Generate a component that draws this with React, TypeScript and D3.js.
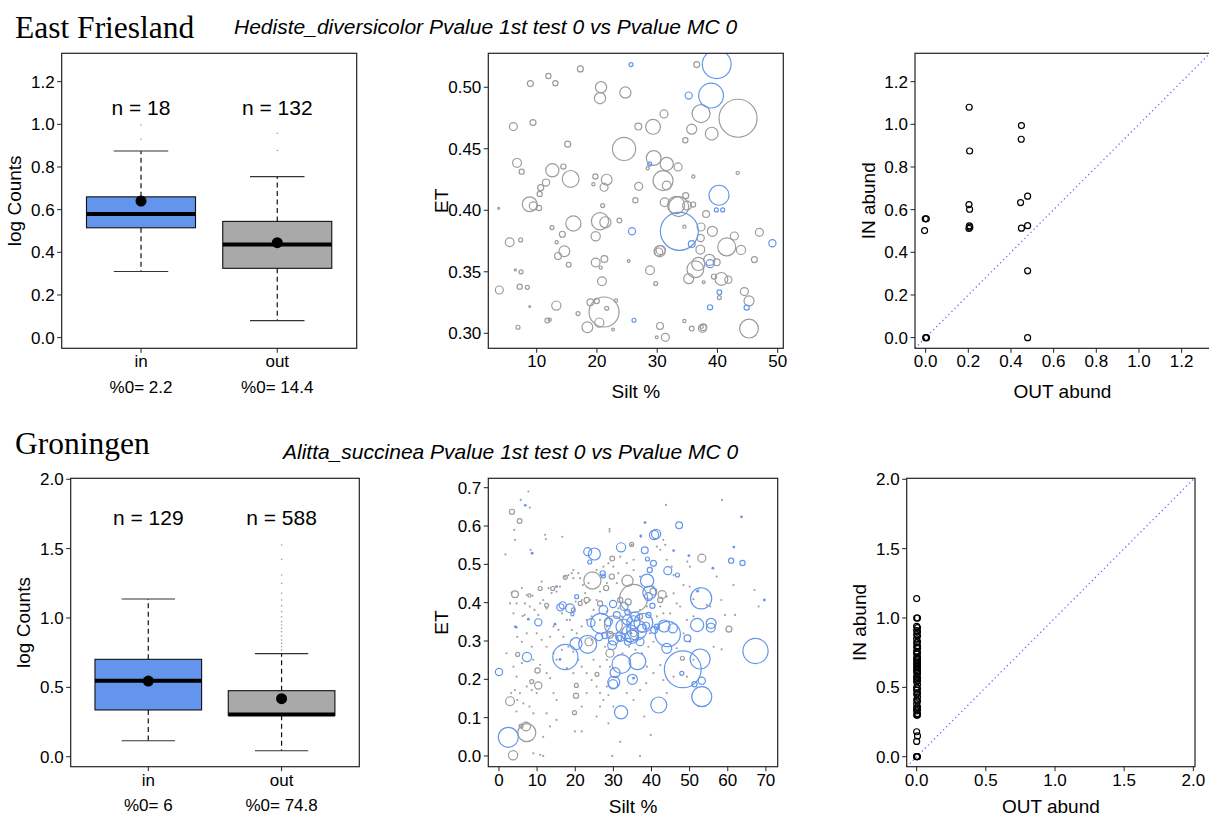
import React from 'react';
import * as d3 from 'd3';

const SANS = '"Liberation Sans", Arial, Helvetica, sans-serif';
const SERIF = '"Liberation Serif", "Times New Roman", serif';
const BLUE = '#6495ED';
const GRAYFILL = '#A9A9A9';
const GRAYLINE = '#9C9C9C';
const TICK_FS = 17;
const TITLE_FS = 19;

// ---------- Titles ----------
const regionTitles = ['East Friesland', 'Groningen'];
const subTitles = [
  'Hediste_diversicolor Pvalue 1st test 0 vs Pvalue MC 0',
  'Alitta_succinea Pvalue 1st test 0 vs Pvalue MC 0',
];

// ---------- Box plots ----------
const boxCategories = ['in', 'out'];
const efN = [18, 132];
const efZero = ['2.2', '14.4'];
const efQ1 = [0.515, 0.325];
const efMedian = [0.58, 0.437];
const efQ3 = [0.66, 0.545];
const efLowWhisker = [0.31, 0.08];
const efHighWhisker = [0.875, 0.755];
const efMean = [0.64, 0.445];
const efOutliersIn = [0.997, 0.93];
const efOutliersOut = [0.958, 0.877];
const efLogTicks = [0, 0.2, 0.4, 0.6, 0.8, 1.0, 1.2];

const grN = [129, 588];
const grZero = ['6', '74.8'];
const grQ1 = [0.337, 0.298];
const grMedian = [0.548, 0.304];
const grQ3 = [0.702, 0.476];
const grLowWhisker = [0.115, 0.043];
const grHighWhisker = [1.137, 0.743];
const grMean = [0.545, 0.418];
const grOutliersIn: number[] = [];
const grOutliersOut = [1.526, 1.423, 1.31, 1.25, 1.178, 1.13, 1.087, 1.046, 1.009, 0.973, 0.95, 0.926, 0.901, 0.87, 0.841, 0.817, 0.793, 0.769];
const grLogTicks = [0, 0.5, 1.0, 1.5, 2.0];

// ---------- Bubble scatter: [silt %, ET, relative abundance] ----------
const efSiltTicks = [10, 20, 30, 40, 50];
const efETTicks = [0.3, 0.35, 0.4, 0.45, 0.5];
const efGray: number[][] = [
  [17.25,0.5149,0.15],[11.94,0.5092,0.13],[13.10,0.5033,0.13],[8.95,0.503,0.15],[20.68,0.500,0.28],[20.51,0.4911,0.28],[24.72,0.4957,0.28],[36.56,0.5184,0.15],[31.13,0.4783,0.2],[37.28,0.4786,0.45],[43.42,0.4748,0.95],[35.73,0.4659,0.25],[39.05,0.4623,0.32],[29.31,0.4678,0.37],[26.87,0.468,0.17],[6.13,0.468,0.2],[9.39,0.4713,0.15],[15.15,0.4537,0.15],[24.5,0.4499,0.58],[34.67,0.4569,0.13],[29.42,0.4425,0.37],[31.58,0.4377,0.33],[33.46,0.4352,0.2],[28.42,0.4341,0.08],[6.74,0.4385,0.22],[7.51,0.4314,0.13],[12.6,0.4325,0.33],[14.43,0.4355,0.13],[15.64,0.4255,0.42],[11.55,0.4225,0.18],[10.66,0.4184,0.15],[10.5,0.4133,0.13],[19.74,0.4274,0.13],[21.62,0.4249,0.27],[19.41,0.4211,0.08],[21.18,0.4187,0.2],[30.97,0.4241,0.5],[31.58,0.4201,0.22],[36.0,0.4274,0.08],[43.36,0.4304,0.08],[26.93,0.4195,0.2],[26.38,0.4081,0.13],[3.69,0.4016,0.05],[8.84,0.4049,0.37],[9.45,0.4035,0.2],[10.39,0.4019,0.13],[20.95,0.4038,0.1],[31.24,0.4065,0.22],[33.13,0.4043,0.43],[34.73,0.4119,0.15],[34.95,0.4038,0.22],[35.95,0.4046,0.13],[38.11,0.397,0.17],[33.57,0.403,0.5],[20.51,0.3911,0.43],[21.4,0.3902,0.28],[16.09,0.3892,0.38],[12.54,0.3859,0.1],[14.26,0.3805,0.15],[23.72,0.3916,0.12],[34.51,0.3867,0.08],[37.28,0.3864,0.2],[39.16,0.3829,0.25],[37.22,0.3775,0.18],[42.81,0.3791,0.2],[46.96,0.3821,0.2],[41.54,0.3702,0.45],[43.91,0.3678,0.23],[5.52,0.374,0.22],[7.34,0.3759,0.1],[13.32,0.374,0.08],[14.59,0.3667,0.27],[13.54,0.3629,0.17],[19.79,0.3789,0.23],[21.23,0.3604,0.17],[19.79,0.3575,0.22],[20.62,0.3534,0.08],[15.31,0.3558,0.12],[25.27,0.3588,0.07],[30.41,0.3667,0.28],[30.58,0.3678,0.23],[30.25,0.3661,0.2],[37.16,0.368,0.22],[38.66,0.3596,0.28],[39.88,0.3577,0.17],[36.83,0.3564,0.33],[36.33,0.352,0.42],[35.23,0.3444,0.25],[39.43,0.3461,0.13],[40.65,0.3442,0.32],[41.81,0.3436,0.18],[46.13,0.3599,0.15],[28.81,0.3512,0.22],[37.72,0.3415,0.07],[20.84,0.3423,0.22],[29.75,0.3404,0.1],[6.46,0.3515,0.05],[7.4,0.3499,0.1],[3.8,0.3352,0.2],[7.18,0.3379,0.13],[8.45,0.3374,0.1],[44.47,0.3339,0.2],[45.24,0.3263,0.25],[40.32,0.329,0.1],[13.26,0.3225,0.23],[8.84,0.3217,0.03],[21.18,0.3173,0.75],[18.91,0.3252,0.17],[19.96,0.3263,0.13],[21.62,0.3203,0.1],[23.17,0.3266,0.08],[16.86,0.316,0.1],[11.77,0.3103,0.12],[12.16,0.3111,0.08],[20.4,0.3087,0.23],[18.41,0.3049,0.27],[22.67,0.303,0.07],[6.9,0.3049,0.1],[30.47,0.306,0.17],[29.92,0.2967,0.07],[31.36,0.2967,0.2],[34.51,0.31,0.08],[35.73,0.3038,0.12],[37.5,0.3041,0.2],[37.66,0.3049,0.17],[37.39,0.3054,0.08],[45.24,0.3038,0.47],
];
const efBlue: number[][] = [
  [25.66,0.5184,0.1],[39.88,0.5187,0.72],[35.23,0.4932,0.18],[38.94,0.4932,0.62],[28.76,0.4377,0.1],[40.26,0.4122,0.5],[39.82,0.4003,0.1],[40.87,0.4003,0.1],[25.82,0.3829,0.18],[33.68,0.3829,0.95],[35.73,0.3726,0.17],[49.12,0.3732,0.18],[38.77,0.3566,0.2],[40.32,0.3333,0.12],[38.77,0.3211,0.13],[44.85,0.3209,0.13],[26.15,0.3106,0.1],
];
const efGrayDots: number[][] = [];
const efBlueDots: number[][] = [];

const grSiltTicks = [0, 10, 20, 30, 40, 50, 60, 70];
const grETTicks = [0, 0.1, 0.2, 0.3, 0.4, 0.5, 0.6, 0.7];
const grGray: number[][] = [
  [3.4,0.637,0.13],[5.4,0.613,0.12],[4.2,0.422,0.17],[8.0,0.419,0.08],[14.1,0.437,0.1],[17.4,0.466,0.1],[12.5,0.393,0.1],[24.5,0.458,0.43],[29.7,0.515,0.12],[33.7,0.457,0.28],[35.3,0.411,0.7],[33.9,0.402,0.15],[30.0,0.342,0.45],[23.6,0.298,0.2],[29.1,0.268,0.2],[53.2,0.516,0.2],[60.3,0.331,0.15],[42.8,0.421,0.2],[28.1,0.438,0.13],[26.5,0.398,0.13],[34.8,0.552,0.1],[3.7,0.002,0.23],[2.9,0.143,0.22],[7.3,0.061,0.45],[7.1,0.077,0.22],[5.8,0.078,0.1],[10.1,0.223,0.13],[10.3,0.184,0.18],[8.6,0.194,0.1],[20.2,0.157,0.13],[19.8,0.113,0.1],[20.3,0.184,0.1],[25.7,0.213,0.1],[4.9,0.265,0.1],[48.1,0.255,0.1],[10.8,0.437,0.1],[29.6,0.468,0.13],[31.8,0.407,0.13],[37.0,0.364,0.13],[29.1,0.316,0.17],[35.3,0.320,0.17],[40.5,0.429,0.17],[42.3,0.407,0.13],[23.0,0.407,0.13],[19.5,0.381,0.1],[21.3,0.398,0.1],
];
const grBlue: number[][] = [
  [2.45,0.0487,0.5],[0,0.2191,0.18],[7.35,0.2583,0.23],[17.41,0.2583,0.63],[10.32,0.3487,0.18],[16.1,0.3878,0.18],[16.71,0.393,0.18],[18.64,0.3852,0.22],[19.25,0.3696,0.08],[20.38,0.4157,0.1],[20.21,0.293,0.3],[23.27,0.2913,0.45],[24.15,0.3478,0.2],[23.27,0.533,0.2],[25.02,0.527,0.3],[23.8,0.5061,0.1],[26.68,0.3461,0.5],[26.25,0.3104,0.18],[27.38,0.3809,0.22],[27.21,0.4765,0.13],[27.38,0.4696,0.1],[29.92,0.3965,0.18],[32.02,0.5443,0.23],[30.01,0.3026,0.25],[29.66,0.2887,0.22],[30.45,0.2174,0.25],[30.1,0.1922,0.3],[29.92,0.187,0.23],[32.11,0.24,0.47],[32.02,0.1139,0.33],[31.5,0.3078,0.13],[32.63,0.3374,0.37],[33.68,0.3548,0.25],[34.38,0.32,0.42],[34.91,0.3113,0.33],[33.68,0.3757,0.13],[35.26,0.3487,0.33],[36.13,0.3287,0.5],[36.31,0.247,0.42],[35.0,0.2,0.25],[37.0,0.2983,0.2],[37.88,0.3478,0.47],[38.58,0.34,0.17],[38.85,0.4574,0.33],[39.46,0.4261,0.33],[39.2,0.4157,0.2],[38.23,0.5365,0.17],[38.93,0.5139,0.1],[39.55,0.4852,0.13],[40.51,0.5026,0.15],[40.68,0.5765,0.23],[41.21,0.5791,0.23],[40.24,0.3922,0.13],[40.68,0.3287,0.17],[41.91,0.133,0.4],[44.27,0.4835,0.2],[43.31,0.3391,0.3],[44.27,0.3183,0.63],[45.58,0.333,0.23],[44.01,0.2809,0.25],[47.24,0.6017,0.17],[46.8,0.4722,0.1],[48.21,0.2261,0.92],[47.94,0.2157,0.1],[49.43,0.307,0.17],[53.02,0.4113,0.53],[51.97,0.3417,0.33],[52.76,0.253,0.5],[53.19,0.1965,0.18],[51.27,0.187,0.13],[53.19,0.1548,0.5],[55.64,0.3461,0.25],[55.56,0.3348,0.22],[60.89,0.5096,0.13],[63.87,0.5035,0.13],[67.28,0.2739,0.63],
  [30.9,0.368,0.17],[32.8,0.39,0.2],[35.7,0.364,0.23],[37.4,0.333,0.2],[39.2,0.368,0.13],[31.8,0.311,0.23],[33.8,0.298,0.17],[27.8,0.314,0.15],[41.4,0.337,0.13],[28.7,0.35,0.2],
];
const grGrayDots: number[][] = [
  [7.7,0.690],[5.7,0.668],[8.1,0.648],[4.0,0.590],[4.2,0.564],[1.7,0.526],[8.3,0.538],[12.1,0.577],[12.3,0.566],[16.6,0.572],[29.0,0.592],[29.0,0.586],[34.8,0.551],[37.2,0.572],[43.8,0.655],[58.5,0.668],[43.1,0.564],[40.2,0.587],[3.3,0.426],[2.9,0.398],[3.8,0.372],[4.6,0.398],[6.0,0.438],[7.3,0.420],[8.8,0.418],[6.2,0.365],[6.8,0.398],[4.2,0.338],[4.8,0.311],[6.7,0.368],[8.1,0.390],[9.3,0.381],[10.3,0.368],[10.8,0.398],[11.2,0.455],[11.6,0.407],[12.5,0.385],[13.0,0.438],[13.8,0.425],[15.1,0.429],[16.0,0.442],[17.3,0.468],[18.2,0.472],[19.1,0.477],[19.5,0.485],[19.5,0.464],[20.8,0.477],[21.3,0.464],[22.0,0.446],[22.6,0.425],[22.8,0.398],[23.9,0.407],[23.5,0.451],[21.7,0.407],[20.1,0.403],
  [2.0,0.268],[3.8,0.233],[4.6,0.207],[4.2,0.172],[5.5,0.164],[3.2,0.164],[4.6,0.116],[7.3,0.181],[8.6,0.172],[9.9,0.164],[6.4,0.137],[8.0,0.129],[9.0,0.111],[4.8,0.146],[6.0,0.242],[9.0,0.251],[10.8,0.238],[12.5,0.216],[13.4,0.203],[14.3,0.268],[15.1,0.251],[16.5,0.277],[17.8,0.229],[19.5,0.216],[20.8,0.251],[21.7,0.233],[23.0,0.216],[24.3,0.198],[25.6,0.181],[26.5,0.164],[27.4,0.146],[28.7,0.159],[14.3,0.164],[15.1,0.146],[12.5,0.111],[11.6,0.050],[13.4,0.077],[15.1,0.094],[9.0,0.007],[10.8,0.003],[11.6,0.000],[19.9,0.064],[21.7,0.064],[25.6,0.103],[26.5,0.129],[28.7,0.085],[29.7,0.000],[31.8,0.037],[37.0,0.000],[39.8,0.055],[38.1,0.103],[38.6,0.190],[37.0,0.172],[42.3,0.237],[58.4,0.278],[59.3,0.368],[61.5,0.446],[61.9,0.368],[67.0,0.433],[68.1,0.390],[58.3,0.407],[57.1,0.468],[54.5,0.394],[51.0,0.409],[50.0,0.442],[48.4,0.446],[46.6,0.398],[47.5,0.390],[50.1,0.494],[49.4,0.507],[45.8,0.472],[45.3,0.494],[44.0,0.512],[42.3,0.538],[41.4,0.546],[43.6,0.551],
  [25.6,0.485],[27.4,0.494],[28.7,0.503],[30.0,0.494],[31.3,0.477],[30.9,0.451],[28.3,0.451],[26.5,0.429],[25.6,0.407],[24.8,0.381],[24.3,0.364],[23.0,0.355],[21.7,0.338],[20.4,0.320],[19.1,0.303],[18.2,0.285],[16.9,0.311],[15.6,0.329],[14.3,0.338],[13.4,0.311],[12.5,0.285],[11.2,0.303],[9.9,0.320],[8.6,0.285],[7.3,0.320],[6.0,0.298],[28.3,0.338],[27.8,0.285],[28.3,0.251],[29.1,0.233],[32.4,0.268],[34.1,0.285],[35.8,0.277],[37.5,0.268],[39.2,0.285],[40.5,0.298],[41.4,0.364],[42.3,0.390],[43.1,0.372],[44.9,0.372],[44.0,0.416],[45.8,0.424],[40.5,0.442],[37.0,0.468],[35.3,0.485],[33.5,0.503],[35.3,0.512],[31.8,0.520],[34.4,0.372],[31.3,0.385],[28.3,0.377],[26.5,0.355],[29.6,0.355],[32.2,0.364],[37.0,0.381],[38.8,0.390],[39.6,0.320],[37.9,0.311],[34.4,0.251],[30.9,0.207],[28.3,0.181],[33.5,0.164],[35.3,0.146],[30.0,0.129],[23.0,0.164],[21.7,0.129],[24.8,0.251],[26.5,0.233],[24.3,0.303],[19.5,0.272],[17.8,0.355],[16.5,0.372],[18.6,0.355],[19.1,0.329],[46.6,0.281],[48.4,0.320],[50.1,0.298],[51.0,0.364],[49.3,0.355],[52.3,0.437],[55.4,0.390],[56.3,0.285],[51.0,0.251],[49.3,0.207],[45.8,0.207],[44.0,0.164],[43.1,0.198],[40.5,0.216],[38.8,0.233],
];
const grBlueDots: number[][] = [
  [6.9,0.654],[8.7,0.529],[38.3,0.609],[37.2,0.574],[45.8,0.536],[49.8,0.523],[56.1,0.490],[61.6,0.545],[63.6,0.624],[69.6,0.407],[52.1,0.430],[14.7,0.344],[15.1,0.442],[4.5,0.336],[7.7,0.357],[16.0,0.252],[34.6,0.32],[35.3,0.203],
];

// ---------- IN vs OUT abundance ----------
const efAbundTicks = [0, 0.2, 0.4, 0.6, 0.8, 1.0, 1.2];
const efOutAbund = [-0.002, 0.003, -0.005, 0.0, 0.004, 0.204, 0.206, 0.203, 0.206, 0.205, 0.203, 0.207, 0.449, 0.448, 0.445, 0.449, 0.478, 0.478, 0.478, 0.478];
const efInAbund = [0.557, 0.557, 0.502, 0.0, 0.0, 1.08, 0.875, 0.624, 0.602, 0.524, 0.512, 0.518, 0.994, 0.93, 0.633, 0.513, 0.663, 0.525, 0.313, 0.0];
const grAbundTicks = [0, 0.5, 1.0, 1.5, 2.0];
const grInAbund = [1.14, 1.0, 1.0, 0.94, 0.93, 0.91, 0.9, 0.88, 0.87, 0.85, 0.83, 0.82, 0.8, 0.79, 0.78, 0.76, 0.75, 0.74, 0.72, 0.71, 0.7, 0.69, 0.68, 0.67, 0.66, 0.65, 0.64, 0.63, 0.62, 0.61, 0.6, 0.58, 0.57, 0.56, 0.55, 0.54, 0.52, 0.5, 0.49, 0.48, 0.46, 0.45, 0.43, 0.41, 0.4, 0.38, 0.36, 0.35, 0.34, 0.33, 0.31, 0.3, 0.3, 0.18, 0.15, 0.11, 0, 0, 0];
const grOutAbund = [0, 0, 0.006, 0, 0.006, 0, 0.006, 0, 0.006, 0, 0.006, 0, 0.006, 0, 0.006, 0, 0.006, 0, 0.006, 0, 0.006, 0, 0.006, 0, 0.006, 0, 0.006, 0, 0.006, 0, 0.006, 0, 0.006, 0, 0.006, 0, 0.006, 0, 0.006, 0, 0.006, 0, 0.006, 0, 0.006, 0, 0.006, 0, 0.006, 0, 0.006, 0, 0.006, 0, 0.006, 0, 0, 0.006, 0];

// ---------- Layout ----------
interface Fr { x0: number; x1: number; y0: number; y1: number }
const frames = {
  tl: { x0: 61.7, x1: 356.7, y0: 53.3, y1: 348.3 },
  tm: { x0: 488.3, x1: 783.3, y0: 53.3, y1: 348.3 },
  tr: { x0: 915, x1: 1210, y0: 53.3, y1: 348.3 },
  bl: { x0: 70.7, x1: 359.3, y0: 478.3, y1: 766.7 },
  bm: { x0: 488.3, x1: 777.7, y0: 478.3, y1: 766.7 },
  br: { x0: 906.7, x1: 1195, y0: 478.3, y1: 766.7 },
};

const f1 = d3.format('.1f');
const f2 = d3.format('.2f');
const fd = d3.format('d');

function FrameRect({ f }: { f: Fr }) {
  return <rect x={f.x0} y={f.y0} width={f.x1 - f.x0} height={f.y1 - f.y0} fill="none" stroke="#222" strokeWidth={1.2} />;
}

function YAxis({ f, scale, ticks, fmt, title }: any) {
  return (
    <g>
      {ticks.map((t: number) => (
        <g key={t}>
          <line x1={f.x0 - 4.5} x2={f.x0} y1={scale(t)} y2={scale(t)} stroke="#222" strokeWidth={1} />
          <text x={f.x0 - 7} y={scale(t)} dy="0.35em" textAnchor="end" fontSize={TICK_FS}>{fmt(t)}</text>
        </g>
      ))}
      <text transform={`translate(${f.x0 - 47},${(f.y0 + f.y1) / 2}) rotate(-90)`} textAnchor="middle" dy="0.35em" fontSize={TITLE_FS}>{title}</text>
    </g>
  );
}

function XAxis({ f, scale, ticks, labels, title }: any) {
  // keep the axis title inside the 819px canvas for the lower row
  const titleY = Math.min(f.y1 + 43, 806.5);
  return (
    <g>
      {ticks.map((t: number, i: number) => (
        <g key={i}>
          <line x1={scale(t)} x2={scale(t)} y1={f.y1} y2={f.y1 + 4.5} stroke="#222" strokeWidth={1} />
          <text x={scale(t)} y={f.y1 + 13} dy="0.35em" textAnchor="middle" fontSize={TICK_FS}>{labels[i]}</text>
        </g>
      ))}
      {title && <text x={(f.x0 + f.x1) / 2} y={titleY} dy="0.35em" textAnchor="middle" fontSize={TITLE_FS}>{title}</text>}
    </g>
  );
}

function BoxPanel({ f, yDomain, yTicks, q1, med, q3, lo, hi, mean, outliers, n, zero, nLabelAt }: any) {
  const y = d3.scaleLinear().domain(yDomain).range([f.y1, f.y0]);
  const x = d3.scaleLinear().domain([0.418, 2.583]).range([f.x0, f.x1]);
  const pos = [1, 2];
  const fills = [BLUE, GRAYFILL];
  const halfBox = x(1.4) - x(1);
  const halfCap = x(1.2) - x(1);
  return (
    <g>
      {pos.map((p, i) => (
        <g key={i}>
          <line x1={x(p)} x2={x(p)} y1={y(q3[i])} y2={y(hi[i])} stroke="#111" strokeWidth={1.2} strokeDasharray="5,3.5" />
          <line x1={x(p)} x2={x(p)} y1={y(q1[i])} y2={y(lo[i])} stroke="#111" strokeWidth={1.2} strokeDasharray="5,3.5" />
          <line x1={x(p) - halfCap} x2={x(p) + halfCap} y1={y(hi[i])} y2={y(hi[i])} stroke="#333" strokeWidth={1.2} />
          <line x1={x(p) - halfCap} x2={x(p) + halfCap} y1={y(lo[i])} y2={y(lo[i])} stroke="#333" strokeWidth={1.2} />
          <rect x={x(p) - halfBox} y={y(q3[i])} width={2 * halfBox} height={y(q1[i]) - y(q3[i])} fill={fills[i]} stroke="#111" strokeWidth={1.1} />
          <line x1={x(p) - halfBox} x2={x(p) + halfBox} y1={y(med[i])} y2={y(med[i])} stroke="#000" strokeWidth={4} />
          <circle cx={x(p)} cy={y(mean[i])} r={5.5} fill="#000" />
          {outliers[i].map((v: number, j: number) => (
            <circle key={j} cx={x(p)} cy={y(v)} r={0.8} fill="#999" />
          ))}
          <text x={x(p)} y={y(nLabelAt)} dy="0.35em" textAnchor="middle" fontSize={21}>{`n = ${n[i]}`}</text>
          <text x={x(p)} y={f.y1 + 38.4} dy="0.35em" textAnchor="middle" fontSize={TICK_FS}>{`%0= ${zero[i]}`}</text>
        </g>
      ))}
      <FrameRect f={f} />
      <YAxis f={f} scale={y} ticks={yTicks} fmt={f1} title="log Counts" />
      <XAxis f={f} scale={x} ticks={pos} labels={boxCategories} />
    </g>
  );
}

function BubblePanel({ id, f, xDomain, yDomain, xTicks, yTicks, yFmt, gray, blue, grayDots, blueDots }: any) {
  const x = d3.scaleLinear().domain(xDomain).range([f.x0, f.x1]);
  const y = d3.scaleLinear().domain(yDomain).range([f.y1, f.y0]);
  const r = d3.scaleLinear().domain([0, 1]).range([0, 20]);
  return (
    <g>
      <defs>
        <clipPath id={id}>
          <rect x={f.x0} y={f.y0} width={f.x1 - f.x0} height={f.y1 - f.y0} />
        </clipPath>
      </defs>
      <g clipPath={`url(#${id})`}>
        {grayDots.map((d: number[], i: number) => (
          <circle key={'gd' + i} cx={x(d[0])} cy={y(d[1])} r={1.1} fill="#a3a3a3" />
        ))}
        {gray.map((d: number[], i: number) => (
          <circle key={'g' + i} cx={x(d[0])} cy={y(d[1])} r={Math.max(r(d[2]), 0.9)} fill="none" stroke={GRAYLINE} strokeWidth={1.2} />
        ))}
        {blueDots.map((d: number[], i: number) => (
          <circle key={'bd' + i} cx={x(d[0])} cy={y(d[1])} r={1.4} fill={BLUE} />
        ))}
        {blue.map((d: number[], i: number) => (
          <circle key={'b' + i} cx={x(d[0])} cy={y(d[1])} r={Math.max(r(d[2]), 0.9)} fill="none" stroke={BLUE} strokeWidth={1.2} />
        ))}
      </g>
      <FrameRect f={f} />
      <YAxis f={f} scale={y} ticks={yTicks} fmt={yFmt} title="ET" />
      <XAxis f={f} scale={x} ticks={xTicks} labels={xTicks.map((t: number) => fd(t))} title="Silt %" />
    </g>
  );
}

function AbundPanel({ id, f, xDomain, yDomain, ticks, outA, inA }: any) {
  const x = d3.scaleLinear().domain(xDomain).range([f.x0, f.x1]);
  const y = d3.scaleLinear().domain(yDomain).range([f.y1, f.y0]);
  const lo = Math.min(xDomain[0], yDomain[0]);
  const hi = Math.max(xDomain[1], yDomain[1]);
  const line = d3.line<number>().x((v) => x(v)).y((v) => y(v));
  return (
    <g>
      <defs>
        <clipPath id={id}>
          <rect x={f.x0} y={f.y0} width={f.x1 - f.x0} height={f.y1 - f.y0} />
        </clipPath>
      </defs>
      <g clipPath={`url(#${id})`}>
        <path d={line([lo, hi]) || ''} stroke="#3b3bff" strokeOpacity={0.75} strokeWidth={1.3} strokeDasharray="1.3,3" fill="none" />
        {outA.map((v: number, i: number) => (
          <circle key={i} cx={x(v)} cy={y(inA[i])} r={3} fill="none" stroke="#000" strokeWidth={1.2} />
        ))}
      </g>
      <FrameRect f={f} />
      <YAxis f={f} scale={y} ticks={ticks} fmt={f1} title="IN abund" />
      <XAxis f={f} scale={x} ticks={ticks} labels={ticks.map((t: number) => f1(t))} title="OUT abund" />
    </g>
  );
}

export default function App() {
  return (
    <svg width={1209} height={819} style={{ position: 'absolute', left: 0, top: 0, background: '#fff' }} fontFamily={SANS} fill="#000">
      <rect x={0} y={0} width={1209} height={819} fill="#fff" />
      <text x={15} y={37.5} fontFamily={SERIF} fontSize={31.5}>{regionTitles[0]}</text>
      <text x={234} y={33.5} fontStyle="italic" fontSize={21}>{subTitles[0]}</text>
      <text x={15} y={453.5} fontFamily={SERIF} fontSize={31.5}>{regionTitles[1]}</text>
      <text x={283} y={459} fontStyle="italic" fontSize={21}>{subTitles[1]}</text>

      <BoxPanel f={frames.tl} yDomain={[-0.05, 1.333]} yTicks={efLogTicks}
        q1={efQ1} med={efMedian} q3={efQ3} lo={efLowWhisker} hi={efHighWhisker} mean={efMean}
        outliers={[efOutliersIn, efOutliersOut]} n={efN} zero={efZero} nLabelAt={1.077} />
      <BubblePanel id="clipTM" f={frames.tm} xDomain={[1.97, 50.93]} yDomain={[0.2878, 0.5276]}
        xTicks={efSiltTicks} yTicks={efETTicks} yFmt={f2} gray={efGray} blue={efBlue} grayDots={efGrayDots} blueDots={efBlueDots} />
      <AbundPanel id="clipTR" f={frames.tr} xDomain={[-0.05, 1.333]} yDomain={[-0.05, 1.333]} ticks={efAbundTicks}
        outA={efOutAbund} inA={efInAbund} />

      <BoxPanel f={frames.bl} yDomain={[-0.072, 2.007]} yTicks={grLogTicks}
        q1={grQ1} med={grMedian} q3={grQ3} lo={grLowWhisker} hi={grHighWhisker} mean={grMean}
        outliers={[grOutliersIn, grOutliersOut]} n={grN} zero={grZero} nLabelAt={1.726} />
      <BubblePanel id="clipBM" f={frames.bm} xDomain={[-2.8, 73.1]} yDomain={[-0.028, 0.7245]}
        xTicks={grSiltTicks} yTicks={grETTicks} yFmt={f1} gray={grGray} blue={grBlue} grayDots={grGrayDots} blueDots={grBlueDots} />
      <AbundPanel id="clipBR" f={frames.br} xDomain={[-0.072, 2.012]} yDomain={[-0.072, 2.007]} ticks={grAbundTicks}
        outA={grOutAbund} inA={grInAbund} />
    </svg>
  );
}
